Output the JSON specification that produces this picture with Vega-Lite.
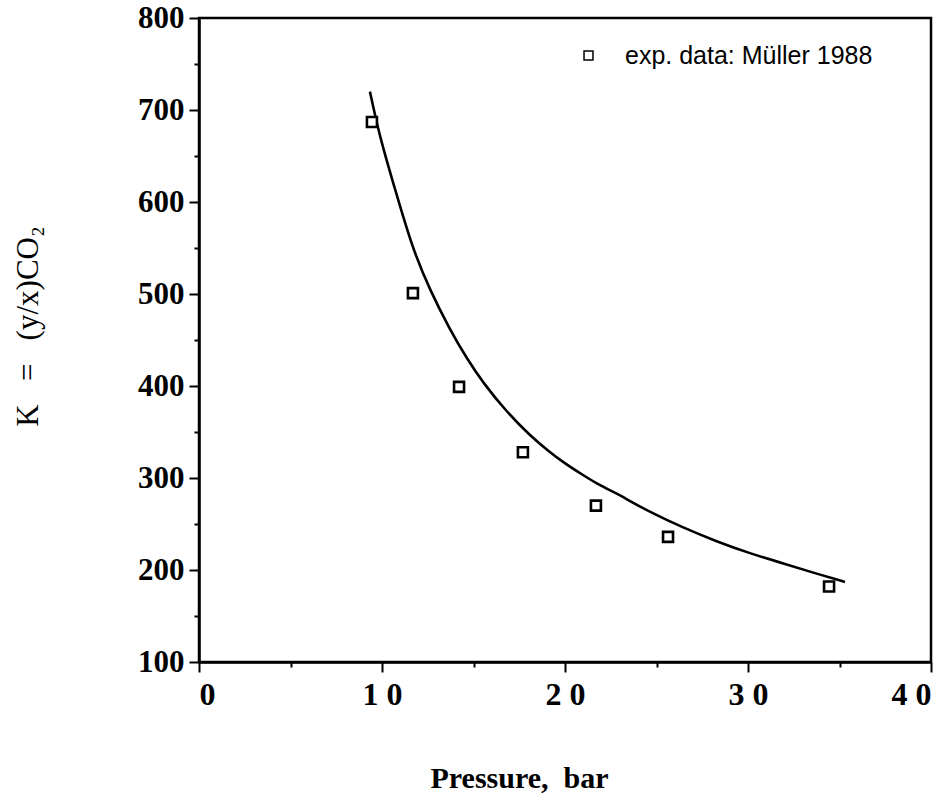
{
  "$schema": "https://vega.github.io/schema/vega-lite/v6.json",
  "width": 732,
  "height": 644,
  "autosize": "none",
  "padding": {"left": 199, "top": 18, "right": 16, "bottom": 139},
  "background": "white",
  "config": {
    "view": {"stroke": "black", "strokeWidth": 2.5},
    "axis": {
      "grid": false,
      "domainColor": "black",
      "domainWidth": 2.5,
      "tickColor": "black",
      "tickWidth": 2,
      "labelColor": "black",
      "titleColor": "black",
      "labelFont": "Liberation Serif",
      "titleFont": "Liberation Serif"
    }
  },
  "layer": [
    {
      "data": {
        "values": [
          {"P": 9.34, "K": 720}, {"P": 9.71, "K": 686}, {"P": 10.07, "K": 658},
          {"P": 10.62, "K": 620}, {"P": 11.16, "K": 584}, {"P": 11.71, "K": 548},
          {"P": 12.62, "K": 504}, {"P": 13.72, "K": 461}, {"P": 14.63, "K": 430},
          {"P": 15.54, "K": 403}, {"P": 16.81, "K": 372}, {"P": 18.09, "K": 346},
          {"P": 19.18, "K": 328}, {"P": 19.91, "K": 317}, {"P": 21.0, "K": 303},
          {"P": 21.73, "K": 294}, {"P": 22.83, "K": 283}, {"P": 23.28, "K": 278},
          {"P": 24.64, "K": 263}, {"P": 26.46, "K": 246}, {"P": 28.29, "K": 231},
          {"P": 30.11, "K": 218}, {"P": 31.93, "K": 207}, {"P": 33.75, "K": 196},
          {"P": 35.3, "K": 187}
        ]
      },
      "mark": {"type": "line", "color": "black", "strokeWidth": 2.6, "interpolate": "basis"},
      "encoding": {
        "x": {
          "field": "P", "type": "quantitative",
          "scale": {"domain": [0, 40], "nice": false, "zero": false},
          "axis": {
            "orient": "bottom",
            "values": [0, 10, 20, 30, 40],
            "tickSize": 10,
            "labelPadding": 7,
            "labelFontSize": 32,
            "labelFontWeight": "bold",
            "labelExpr": "datum.value == 0 ? '0' : format(datum.value / 10, 'd') + ' 0'",
            "title": "Pressure,\u00a0\u00a0bar",
            "titleFontSize": 30,
            "titleFontWeight": "bold",
            "titleBaseline": "alphabetic",
            "titleAlign": "center",
            "titleX": 320,
            "titleY": 125
          }
        },
        "y": {
          "field": "K", "type": "quantitative",
          "scale": {"domain": [100, 800], "nice": false, "zero": false},
          "axis": {
            "orient": "left",
            "values": [100, 200, 300, 400, 500, 600, 700, 800],
            "tickSize": 10,
            "labelPadding": 5,
            "labelFontSize": 31,
            "labelFontWeight": "bold",
            "title": "K\u00a0\u00a0\u00a0=\u00a0\u00a0\u00a0(y/x)CO\u2082",
            "titleFontSize": 31,
            "titleFontWeight": "normal",
            "titleBaseline": "alphabetic",
            "titleAlign": "center",
            "titleAngle": -90,
            "titleX": -162,
            "titleY": 308
          }
        }
      }
    },
    {
      "data": {
        "values": [
          {"P": 9.45, "K": 687, "series": "exp. data: Müller 1988"},
          {"P": 11.69, "K": 501, "series": "exp. data: Müller 1988"},
          {"P": 14.21, "K": 399, "series": "exp. data: Müller 1988"},
          {"P": 17.7, "K": 328, "series": "exp. data: Müller 1988"},
          {"P": 21.69, "K": 270, "series": "exp. data: Müller 1988"},
          {"P": 25.63, "K": 236, "series": "exp. data: Müller 1988"},
          {"P": 34.43, "K": 182, "series": "exp. data: Müller 1988"}
        ]
      },
      "mark": {"type": "point", "size": 100, "filled": false, "fill": "white", "fillOpacity": 1, "stroke": "black", "strokeWidth": 2.6, "opacity": 1},
      "encoding": {
        "x": {
          "field": "P", "type": "quantitative",
          "scale": {"domain": [0, 40], "nice": false, "zero": false},
          "axis": {
            "orient": "bottom",
            "values": [5, 15, 25, 35],
            "tickSize": 5,
            "labels": false,
            "domain": false,
            "title": null
          }
        },
        "y": {
          "field": "K", "type": "quantitative",
          "scale": {"domain": [100, 800], "nice": false, "zero": false},
          "axis": {
            "orient": "left",
            "values": [150, 250, 350, 450, 550, 650, 750],
            "tickSize": 5,
            "labels": false,
            "domain": false,
            "title": null
          }
        },
        "shape": {
          "field": "series", "type": "nominal",
          "scale": {"domain": ["exp. data: Müller 1988"], "range": ["square"]},
          "legend": {
            "title": null,
            "orient": "none",
            "legendX": 377,
            "legendY": 25,
            "padding": 0,
            "labelFont": "Liberation Sans",
            "labelFontSize": 25,
            "labelColor": "black",
            "labelLimit": 500,
            "labelOffset": 24,
            "symbolType": "square",
            "symbolSize": 80,
            "encode": {
              "symbols": {
                "update": {
                  "stroke": {"value": "black"},
                  "strokeWidth": {"value": 2.4},
                  "fill": {"value": "white"},
                  "opacity": {"value": 1},
                  "fillOpacity": {"value": 1},
                  "strokeOpacity": {"value": 1}
                }
              }
            }
          }
        }
      }
    }
  ],
  "resolve": {"axis": {"x": "independent", "y": "independent"}}
}
